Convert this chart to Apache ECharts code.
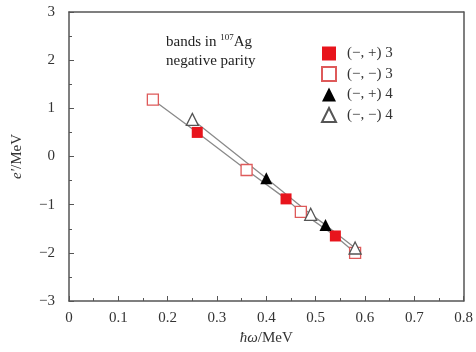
<!DOCTYPE html>
<html>
<head>
<meta charset="utf-8">
<script src="https://cdn.jsdelivr.net/npm/echarts@6/dist/echarts.min.js"></script>
<style>
  html, body {margin: 0; padding: 0; background: #fff;}
  #chart {width: 476px; height: 352px;}
</style>
</head>
<body>
<div id="chart"></div>
<script>
// band 3, signature (−,+) and (−,−)
const band3Plus = [[0.26, 0.50], [0.44, -0.88], [0.54, -1.65]];
const band3Minus = [[0.17, 1.18], [0.36, -0.28], [0.47, -1.15], [0.58, -2.00]];
// band 4
const band4Plus = [[0.40, -0.45], [0.52, -1.42]];
const band4Minus = [[0.25, 0.77], [0.49, -1.20], [0.58, -1.90]];

const legendNames = ['(−, +) 3', '(−, −) 3', '(−, +) 4', '(−, −) 4'];
const xTicks = [0, 0.1, 0.2, 0.3, 0.4, 0.5, 0.6, 0.7, 0.8];
const yTicks = [-3, -2, -1, 0, 1, 2, 3];

const font = 'Liberation Serif';
const axisColor = '#555';

const byX = (a, b) => a[0] - b[0];
const band3Line = band3Plus.concat(band3Minus).sort(byX);
const band4Line = band4Plus.concat(band4Minus).sort(byX);

const chart = echarts.init(document.getElementById('chart'));

const baseAxis = {
  axisLine: {show: true, onZero: false, lineStyle: {color: axisColor, width: 1.5}},
  axisTick: {show: true, inside: true, length: 5, lineStyle: {color: axisColor}},
  minorTick: {show: true, splitNumber: 2, length: 3, lineStyle: {color: axisColor}},
  splitLine: {show: false},
};

chart.setOption({
  animation: false,
  grid: {left: 69, right: 11, top: 12, bottom: 51},
  xAxis: [{
    ...baseAxis,
    type: 'value', min: xTicks[0], max: xTicks[xTicks.length - 1], interval: 0.1,
    axisLabel: {color: '#333', fontFamily: font, fontSize: 15, margin: 10,
      formatter: v => String(+v.toFixed(1))},
    name: '{i|ħω}/MeV', nameLocation: 'middle', nameGap: 30,
    nameTextStyle: {color: '#333', fontFamily: font, fontSize: 15,
      rich: {i: {fontStyle: 'italic', fontFamily: font, fontSize: 15, color: '#333'}}},
  }, {
    ...baseAxis,
    type: 'value', position: 'top', min: 0, max: 0.8, interval: 0.1,
    axisTick: {show: false}, minorTick: {show: false}, axisLabel: {show: false},
  }],
  yAxis: [{
    ...baseAxis,
    type: 'value', min: yTicks[0], max: yTicks[yTicks.length - 1], interval: 1,
    axisLabel: {color: '#333', fontFamily: font, fontSize: 15, margin: 14,
      formatter: v => v < 0 ? '−' + Math.abs(v) : String(v)},
    name: '{i|e′}/MeV', nameLocation: 'middle', nameGap: 44,
    nameTextStyle: {color: '#333', fontFamily: font, fontSize: 15,
      rich: {i: {fontStyle: 'italic', fontFamily: font, fontSize: 15, color: '#333'}}},
  }, {
    ...baseAxis,
    type: 'value', position: 'right', min: -3, max: 3, interval: 1,
    axisTick: {show: false}, minorTick: {show: false}, axisLabel: {show: false},
  }],
  legend: {
    orient: 'vertical', left: 316, top: 41, itemGap: 5,
    itemWidth: 14, itemHeight: 14,
    textStyle: {fontFamily: font, fontSize: 15, color: '#333', padding: [0, 0, 0, 6]},
    data: legendNames,
  },
  graphic: [{
    type: 'text', left: 166, top: 33,
    style: {
      text: 'bands in {sup|107}Ag\nnegative parity',
      font: '15px "Liberation Serif"', fill: '#222', lineHeight: 19,
      rich: {sup: {fontSize: 9, verticalAlign: 'top', padding: [0, 0, 8, 0], fontFamily: font}},
    },
  }],
  series: [
    {type: 'line', data: band3Line, symbol: 'none', silent: true,
      lineStyle: {color: '#8a8a8a', width: 1.3}, z: 1},
    {type: 'line', data: band4Line, symbol: 'none', silent: true,
      lineStyle: {color: '#8a8a8a', width: 1.3}, z: 1},
    {name: legendNames[0], type: 'scatter', data: band3Plus, symbol: 'rect', symbolSize: 11,
      itemStyle: {color: '#e8141c', opacity: 1}, z: 3},
    {name: legendNames[1], type: 'scatter', data: band3Minus, symbol: 'rect', symbolSize: 11,
      itemStyle: {color: '#fff', borderColor: '#de5a5a', borderWidth: 1.3, opacity: 1}, z: 3},
    {name: legendNames[2], type: 'scatter', data: band4Plus, symbol: 'triangle', symbolSize: 12,
      itemStyle: {color: '#000', opacity: 1}, z: 3},
    {name: legendNames[3], type: 'scatter', data: band4Minus, symbol: 'triangle', symbolSize: 12,
      itemStyle: {color: '#fff', borderColor: '#555', borderWidth: 1.3, opacity: 1}, z: 3},
  ],
});
</script>
</body>
</html>
